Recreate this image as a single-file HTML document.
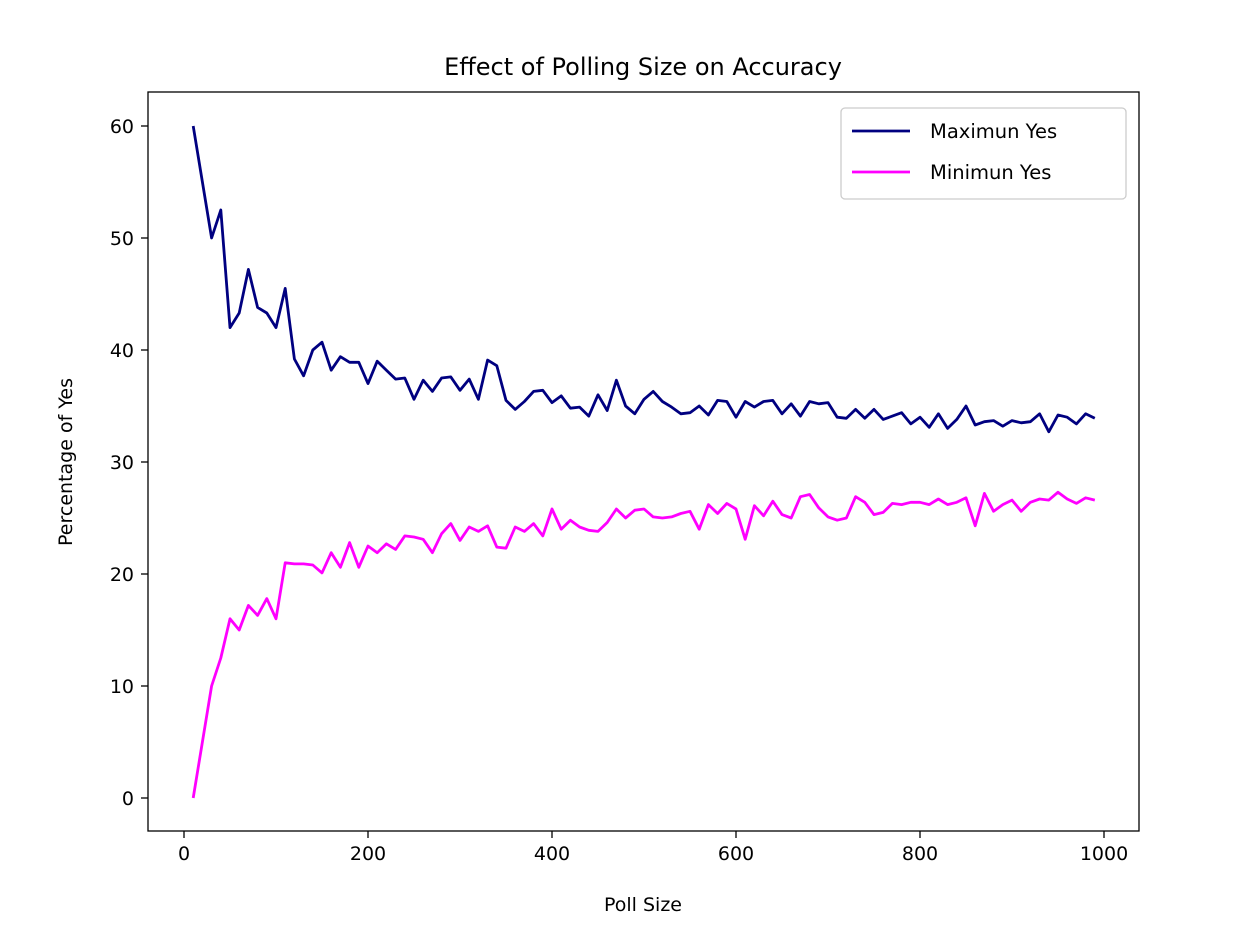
<!DOCTYPE html>
<html><head><meta charset="utf-8"><style>
html,body{margin:0;padding:0;background:#fff;}
svg{display:block;font-family:"DejaVu Sans","Liberation Sans",sans-serif;}
</style></head><body>
<svg id="chart" width="1258" height="936" viewBox="0 0 1258 936">
<rect x="0" y="0" width="1258" height="936" fill="#fff"/>
<text x="643" y="75" font-size="24" text-anchor="middle">Effect of Polling Size on Accuracy</text>
<g id="ticks"></g>
<g id="lines"></g>
<rect x="148" y="92" width="991" height="739" fill="none" stroke="#000" stroke-width="1.3"/>
<text x="643" y="911" font-size="19" text-anchor="middle">Poll Size</text>
<text transform="translate(72,462) rotate(-90)" font-size="19" text-anchor="middle">Percentage of Yes</text>
<g>
<rect x="841" y="108" width="285" height="91" rx="4" fill="#fff" stroke="#ccc" stroke-width="1.3"/>
<line x1="852" y1="131" x2="910" y2="131" stroke="#000080" stroke-width="2.8"/>
<text x="930" y="138" font-size="19.5">Maximun Yes</text>
<line x1="852" y1="172" x2="910" y2="172" stroke="#ff00ff" stroke-width="2.8"/>
<text x="930" y="179" font-size="19.5">Minimun Yes</text>
</g>
</svg>
<script>
const pollSizes = [];
for (let i = 10; i <= 990; i += 10) pollSizes.push(i);
const maxYes = [60,55,50,52.5,42,43.3,47.2,43.8,43.3,42,45.5,39.2,37.7,40,40.7,38.2,39.4,38.9,38.9,37,39,38.2,37.4,37.5,35.6,37.3,36.3,37.5,37.6,36.4,37.4,35.6,39.1,38.6,35.5,34.7,35.4,36.3,36.4,35.3,35.9,34.8,34.9,34.1,36,34.6,37.3,35,34.3,35.6,36.3,35.4,34.9,34.3,34.4,35,34.2,35.5,35.4,34,35.4,34.9,35.4,35.5,34.3,35.2,34.1,35.4,35.2,35.3,34,33.9,34.7,33.9,34.7,33.8,34.1,34.4,33.4,34,33.1,34.3,33,33.8,35,33.3,33.6,33.7,33.2,33.7,33.5,33.6,34.3,32.7,34.2,34,33.4,34.3,33.9];
const minYes = [0,5,10,12.5,16,15,17.2,16.3,17.8,16,21,20.9,20.9,20.8,20.1,21.9,20.6,22.8,20.6,22.5,21.9,22.7,22.2,23.4,23.3,23.1,21.9,23.6,24.5,23,24.2,23.8,24.3,22.4,22.3,24.2,23.8,24.5,23.4,25.8,24,24.8,24.2,23.9,23.8,24.6,25.8,25,25.7,25.8,25.1,25,25.1,25.4,25.6,24,26.2,25.4,26.3,25.8,23.1,26.1,25.2,26.5,25.3,25,26.9,27.1,25.9,25.1,24.8,25,26.9,26.4,25.3,25.5,26.3,26.2,26.4,26.4,26.2,26.7,26.2,26.4,26.8,24.3,27.2,25.6,26.2,26.6,25.6,26.4,26.7,26.6,27.3,26.7,26.3,26.8,26.6];
const xTicks = [0,200,400,600,800,1000];
const yTicks = [0,10,20,30,40,50,60];

const NS = "http://www.w3.org/2000/svg";
const xS = v => 184 + v * 0.92;
const yS = v => 798 - v * 11.2;
const tg = document.getElementById('ticks');
const lg = document.getElementById('lines');
function mk(tag, attrs, parent){const e=document.createElementNS(NS,tag);for(const k in attrs)e.setAttribute(k,attrs[k]);parent.appendChild(e);return e;}
xTicks.forEach(t=>{
  const l=mk('line',{x1:xS(t),x2:xS(t),y1:831,y2:838,stroke:'#000','stroke-width':1.3},tg);
  
  
  const tx=mk('text',{x:xS(t),y:860,'font-size':19,'text-anchor':'middle'},tg);
  tx.textContent=t;
  
  
});
yTicks.forEach(t=>{
  const l=mk('line',{x1:141,x2:148,y1:yS(t),y2:yS(t),stroke:'#000','stroke-width':1.3},tg);
  
  
  const tx=mk('text',{x:134,y:yS(t)+7,'font-size':19,'text-anchor':'end'},tg);
  tx.textContent=t;
  
  
});
function series(vals,color,name){
  const pts=vals.map((v,i)=>xS(pollSizes[i]).toFixed(1)+','+yS(v).toFixed(1)).join(' ');
  const p=mk('polyline',{points:pts,fill:'none',stroke:color,'stroke-width':2.8,'stroke-linejoin':'round'},lg);
  
  
}
series(maxYes,'#000080','max-yes-line');
series(minYes,'#ff00ff','min-yes-line');
</script>
</body></html>
